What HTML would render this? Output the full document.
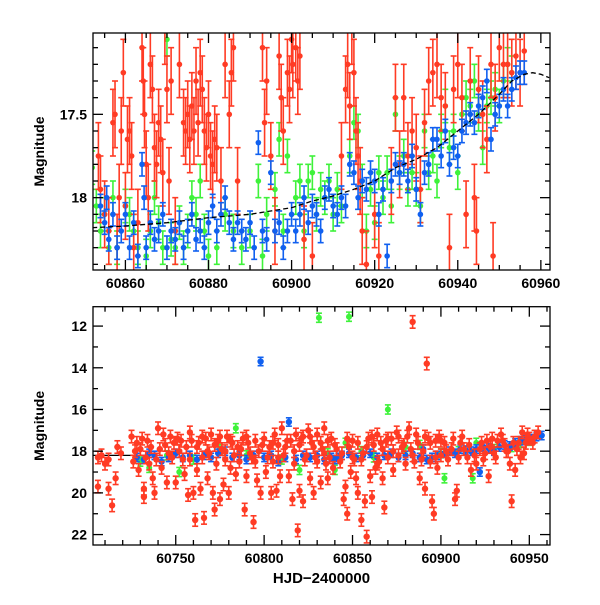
<!DOCTYPE html>
<html><head><meta charset="utf-8"><style>
body{margin:0;background:#fff;width:600px;height:600px;overflow:hidden}
svg text{font-family:"Liberation Sans",sans-serif;font-weight:bold;fill:#000}
</style></head><body>
<svg id="chart" width="600" height="600" xmlns="http://www.w3.org/2000/svg"></svg>
<script>
// ---- TOP PANEL DATA ----
const redTopT=[60853.5,60854,60855,60856,60857,60857.5,60858,60858.5,60859,60859.5,60860,60860.5,60861,60861.5,60862,60863,60864,60864.3,60864.6,60865,60865.5,60866,60866.5,60867,60867.5,60868,60868.5,60869,60869.5,60870,60870.5,60871,60872,60873,60874,60874.5,60875,60875.5,60876,60876.5,60877,60877.5,60878,60878.5,60879,60879.5,60880,60880.5,60881,60881.5,60882,60883,60884,60885,60885.5,60886,60887,60893,60893.5,60894,60895,60896,60897,60897.5,60898,60899,60899.5,60900,60900.3,60901,60901.5,60902,60903,60905,60912,60913,60913.5,60914,60914.5,60915,60915.5,60916,60916.5,60917,60918,60920,60921,60924,60925,60926,60927,60928,60929,60930,60931,60932,60933,60934,60935,60936,60937,60938,60939,60940,60941,60942,60943,60944,60944.5,60945,60946,60947,60948,60948.5,60949,60950,60951,60952,60953,60954,60955,60956];
const redTopM=[17.75,17.95,18.1,18.2,17.55,17.5,18.3,18.0,17.6,17.25,18.05,17.65,17.6,17.75,18.3,18.15,17.1,17.3,17.5,17.8,18.0,17.2,17.35,17.7,17.8,17.55,17.65,17.85,17.0,17.35,17.9,17.3,18.2,17.2,17.55,17.6,17.5,17.65,17.45,17.6,17.3,17.55,17.25,17.35,17.6,17.7,17.5,17.75,17.8,17.65,17.7,17.9,17.2,17.5,17.25,17.1,17.9,17.1,17.55,17.3,17.75,18.2,17.15,17.4,17.6,17.25,17.35,17.05,17.2,17.1,17.3,17.15,18.25,18.35,17.75,17.35,17.2,17.45,17.0,17.25,17.6,17.75,17.9,18.2,18.4,18.1,18.35,17.9,17.4,17.8,17.4,17.75,17.6,17.7,17.95,17.55,17.3,17.25,17.2,17.4,17.45,18.3,17.35,17.2,17.4,18.1,17.3,18.0,18.2,17.35,17.5,17.65,17.2,18.35,17.4,17.1,17.2,17.2,17.25,17.15,17.25,17.12];
const blueTopT=[60854,60855,60855.5,60856,60857,60858,60859,60860,60861,60862,60863,60864,60864.5,60865,60866,60867,60868,60869,60870,60871,60872,60873,60874,60875,60876,60877,60878,60879,60880,60881,60882,60883,60884,60885,60886,60887,60888,60889,60890,60891,60892,60893,60894,60895,60896,60897,60898,60899,60900,60901,60902,60903,60904,60905,60906,60907,60908,60909,60910,60911,60912,60913,60914,60915,60916,60917,60918,60919,60920,60921,60922,60923,60924,60925,60926,60927,60928,60929,60930,60931,60932,60933,60934,60935,60936,60937,60938,60939,60940,60941,60942,60943,60944,60945,60946,60947,60948,60949,60950,60951,60952,60953,60954,60955,60956];
const blueTopM=[18.05,18.15,18.0,18.25,18.1,18.3,18.2,18.1,18.3,18.15,18.35,17.8,18.0,18.3,18.15,18.25,18.2,18.1,18.3,18.2,18.25,18.15,18.3,18.2,18.1,18.25,18.2,18.3,18.15,18.05,18.2,18.1,18.0,18.15,18.25,18.15,18.2,18.25,18.15,18.3,17.67,18.2,18.25,17.85,18.2,18.15,18.3,18.2,18.1,18.2,18.1,18.0,18.15,18.05,18.1,18.2,18.0,17.95,18.05,18.1,18.0,18.05,17.8,17.85,18.0,17.9,17.95,17.85,17.9,18.1,17.95,18.35,17.9,17.8,17.85,17.8,17.9,17.75,17.95,18.1,17.85,17.8,17.65,17.65,17.75,17.6,17.8,17.7,17.75,17.6,17.55,17.5,17.55,17.45,17.4,17.3,17.65,17.5,17.45,17.35,17.45,17.35,17.28,17.25,17.25];
const greenTopT=[60852,60853,60854,60855,60856,60857,60858,60860,60861,60862,60863,60865,60866,60867,60868,60869,60870,60871,60872,60873,60874,60875,60876,60877,60878,60879,60880,60882,60884,60886,60888,60890,60892,60893,60894,60896,60897,60898,60899,60901,60902,60903,60904,60905,60906,60907,60908,60909,60910,60911,60912,60914,60915,60916,60917,60918,60919,60920,60921,60922,60923,60924,60925,60926,60927,60928,60929,60930,60931,60932,60933,60934,60935,60936,60937,60938,60939,60940,60941,60942,60943,60944,60945,60946,60947,60948,60949,60950,60951,60952,60953];
const greenTopM=[17.82,18.05,18.2,18.1,18.3,18.0,18.3,18.05,18.1,18.2,18.3,18.35,18.2,18.0,18.15,18.3,17.05,18.25,18.3,18.15,18.3,18.2,18.0,18.1,17.9,18.2,18.35,18.3,18.1,18.2,18.3,18.2,17.9,18.35,18.1,17.95,17.65,18.2,17.75,18.0,17.9,18.2,17.9,17.85,18.1,17.95,18.0,17.9,18.1,17.95,18.05,17.75,17.55,17.6,17.9,18.2,17.95,18.15,17.85,18.0,17.85,18.05,17.5,17.85,17.75,17.95,17.85,17.95,18.05,17.6,17.85,17.75,17.9,17.6,17.45,17.7,17.6,17.85,17.5,17.4,17.45,17.3,17.5,17.7,17.45,17.4,17.35,17.45,17.3,17.2,17.25];
const curveT=[60852,60860,60870,60880,60890,60900,60905,60910,60915,60920,60925,60930,60935,60940,60945,60950,60953,60956,60958,60960,60962];
const curveM=[18.18,18.17,18.15,18.12,18.1,18.06,18.02,17.99,17.95,17.9,17.82,17.77,17.7,17.6,17.5,17.38,17.3,17.26,17.25,17.26,17.28];
// ---- BOTTOM PANEL DATA ----
const redBotT=[60706,60706,60708,60710,60712,60712,60714,60716,60717,60719,60725,60726,60728,60729,60730,60732,60732,60734,60735,60737,60738,60740,60741,60742,60744,60745,60747,60748,60749,60750,60752,60753,60755,60756,60757,60758,60759,60760,60761,60762,60763,60764,60765,60766,60767,60768,60769,60770,60771,60772,60773,60774,60775,60776,60777,60778,60779,60780,60781,60782,60784,60785,60786,60788,60789,60790,60791,60793,60794,60795,60796,60797,60798,60800,60801,60803,60804,60805,60806,60807,60808,60809,60810,60811,60813,60814,60816,60817,60818,60819,60820,60821,60822,60823,60825,60826,60827,60828,60829,60830,60832,60833,60834,60835,60836,60838,60839,60840,60843,60845,60846,60847,60848,60849,60850,60851,60852,60853,60855,60856,60857,60858,60859,60860,60861,60862,60863,60864,60865,60866,60867,60868,60869,60870,60872,60873,60875,60876,60878,60880,60881,60883,60884,60885,60886,60888,60890,60891,60892,60893,60894,60895,60896,60897,60898,60899,60900,60902,60904,60906,60908,60909,60910,60911,60913,60915,60917,60920,60922,60924,60926,60927,60928,60930,60932,60934,60936,60937,60939,60940,60941,60942,60944,60945,60946,60948,60950,60952,60955,60727,60731,60733,60736,60739,60743,60746,60751,60754,60758,60762,60765,60768,60772,60775,60778,60781,60783,60787,60790,60792,60795,60799,60802,60805,60808,60812,60815,60817,60820,60822,60824,60826,60828,60830,60832,60834,60836,60837,60841,60844,60847,60850,60853,60855,60858,60861,60864,60867,60870,60873,60876,60879,60882,60884,60887,60889,60891,60894,60897,60900,60903,60907,60912,60916,60919,60923,60925,60929,60931,60935,60938,60943,60947,60949,60953];
const redBotM=[18.3,19.7,18.2,18.6,19.8,18.4,20.6,19.3,17.8,18.1,17.3,18.5,17.6,18.9,17.9,19.8,20.2,17.5,18.6,19.3,20.0,16.9,17.9,18.8,17.7,19.5,17.3,18.3,17.6,19.5,18.0,17.5,19.1,17.8,20.1,18.4,17.5,20.0,21.3,18.9,17.6,19.8,18.3,21.2,17.4,19.3,18.1,17.2,20.0,20.8,18.6,17.5,20.3,17.9,19.6,18.4,17.3,20.0,18.8,17.6,19.1,17.8,18.5,17.4,20.8,19.2,17.6,18.3,21.4,17.5,19.4,18.0,20.0,17.4,19.0,17.8,20.0,18.5,17.2,19.9,17.7,19.2,16.9,18.2,17.5,19.2,20.3,18.0,17.2,21.8,19.9,17.4,20.4,18.4,17.0,19.3,17.6,20.0,18.3,17.2,19.5,17.9,16.9,18.6,19.3,17.4,18.8,17.7,18.5,20.3,19.7,21.0,17.8,19.0,17.5,18.4,19.3,20.0,21.3,18.1,20.4,22.1,17.4,19.2,20.2,17.7,18.8,17.2,18.5,17.6,19.3,20.7,17.5,18.3,17.4,18.9,17.1,18.2,17.8,18.6,17.3,17.9,11.8,18.5,17.2,19.3,18.0,19.8,13.8,17.4,18.5,20.4,21.0,17.5,18.8,17.3,18.2,17.6,18.4,17.9,20.3,19.9,18.3,17.6,17.9,18.3,18.9,18.6,17.9,18.4,17.5,19.2,17.8,18.1,17.5,17.2,17.7,18.0,18.6,20.4,17.6,18.9,17.6,18.3,17.1,17.6,17.4,17.6,17.1,18.0,17.4,18.3,17.8,18.4,17.2,18.1,17.4,18.4,17.1,17.8,17.3,18.0,17.7,17.3,18.0,17.5,18.2,17.9,17.3,18.1,18.5,17.7,18.3,17.6,18.3,17.8,17.5,18.6,17.7,17.3,18.2,17.3,17.8,18.5,17.6,18.1,17.5,18.3,17.9,18.1,17.4,18.3,17.6,18.4,17.8,17.3,18.6,17.9,17.4,18.0,17.3,17.7,16.9,18.2,17.6,18.4,17.3,17.6,18.3,17.5,18.0,17.4,17.3,17.7,18.2,17.6,18.1,17.4,18.3,17.5,18.0,17.9,18.1,17.2,17.3];
const blueBotT=[60728,60732,60735,60738,60742,60746,60750,60754,60758,60762,60766,60770,60774,60778,60782,60786,60790,60794,60798,60800,60804,60808,60812,60814,60818,60822,60826,60830,60834,60838,60840,60842,60844,60848,60852,60856,60860,60864,60868,60872,60876,60880,60884,60888,60890,60892,60895,60898,60902,60905,60908,60911,60914,60917,60920,60922,60924,60927,60930,60933,60936,60939,60942,60945,60948,60951,60954,60957];
const blueBotM=[18.3,18.4,18.1,18.2,18.5,18.3,18.1,18.3,18.2,18.4,18.2,18.3,18.1,18.0,18.3,18.2,18.4,18.2,13.7,18.3,18.2,18.5,18.3,16.6,18.4,18.2,18.3,18.2,18.4,18.3,18.4,18.3,18.2,18.1,18.3,18.2,18.1,18.3,18.2,18.1,18.3,18.2,18.1,18.3,17.9,18.4,18.3,18.2,18.1,18.0,18.1,17.9,17.95,18.0,17.9,19.0,17.8,17.85,18.0,17.8,17.7,17.75,17.6,17.5,17.45,17.4,17.3,17.25];
const greenBotT=[60730,60735,60745,60752,60760,60775,60784,60790,60810,60820,60831,60836,60840,60846,60848,60855,60862,60870,60880,60888,60900,60902,60910,60918,60920,60930,60940,60945,60950];
const greenBotM=[18.5,18.8,18.2,19.0,18.4,17.9,16.9,18.2,18.4,18.9,11.6,18.1,18.9,17.6,11.55,18.0,18.3,16.0,17.8,17.7,18.1,19.3,18.0,19.3,17.6,17.9,17.8,17.6,17.5];
const botLineT=[60703,60730];
const botLineM=[18.2,18.2];
const topXTicks=[60860,60880,60900,60920,60940,60960];
const topYTicks=[17.5,18];
const botXTicks=[60750,60800,60850,60900,60950];
const botYTicks=[12,14,16,18,20,22];

const NS='http://www.w3.org/2000/svg';
const svg=document.getElementById('chart');
function mk(tag,attrs,parent){const e=document.createElementNS(NS,tag);for(const k in attrs)e.setAttribute(k,attrs[k]);(parent||svg).appendChild(e);return e;}
const L=93,R=550;
const pTop={x0:60852.2,x1:60962.2,y0:17.012,y1:18.434,T:33,B:270};
const pBot={x0:60703.2,x1:60961.7,y0:11.07,y1:22.5,T:306.7,B:545};
function sx(p,v){return L+(v-p.x0)/(p.x1-p.x0)*(R-L);}
function sy(p,v){return p.T+(v-p.y0)/(p.y1-p.y0)*(p.B-p.T);}
const COL={red:'#ff3b24',green:'#3ef23a',blue:'#1060f0'};

function panel(p,name){
  const g=mk('g',{});
  
  
  const cp=mk('clipPath',{id:'clip-'+name},g);
  mk('rect',{x:L,y:p.T,width:R-L,height:p.B-p.T},cp);
  const inner=mk('g',{'clip-path':'url(#clip-'+name+')'},g);
  return {g,inner};
}
function series(p,parent,T,M,err,color,name,r){
  const g=mk('g',{fill:COL[color],stroke:COL[color],'stroke-width':1.6},parent);
  
  
  for(let i=0;i<T.length;i++){
    const x=sx(p,T[i]),y=sy(p,M[i]),y1=sy(p,M[i]-err),y2=sy(p,M[i]+err);
    mk('line',{x1:x,x2:x,y1:y1,y2:y2},g);
    mk('line',{x1:x-3,x2:x+3,y1:y1,y2:y1},g);
    mk('line',{x1:x-3,x2:x+3,y1:y2,y2:y2},g);
    const c=mk('circle',{cx:x,cy:y,r:r,stroke:'none'},g);
    
    
  }
}
function line(p,parent,T,M,dash,name){
  let d='';for(let i=0;i<T.length;i++)d+=(i?'L':'M')+sx(p,T[i]).toFixed(1)+' '+sy(p,M[i]).toFixed(1);
  const e=mk('path',{d:d,fill:'none',stroke:'#000','stroke-width':1.3,'stroke-dasharray':dash},parent);
  
  
}
function axes(p,g,xt,xminor,yt,ymin,ystep,fmt,name){
  const a=mk('g',{stroke:'#000','stroke-width':1.3},g);
  
  
  mk('rect',{x:L,y:p.T,width:R-L,height:p.B-p.T,fill:'none'},a);
  for(let v=Math.ceil(p.x0/xminor)*xminor;v<=p.x1;v+=xminor){
    const x=sx(p,v),maj=xt.indexOf(v)>=0,len=maj?10:5;
    mk('line',{x1:x,x2:x,y1:p.B,y2:p.B-len},a);mk('line',{x1:x,x2:x,y1:p.T,y2:p.T+len},a);
  }
  for(let v=ymin;v<=p.y1+1e-9;v=Math.round((v+ystep)*100)/100){
    if(v<p.y0)continue;
    const y=sy(p,v),maj=yt.some(t=>Math.abs(t-v)<1e-6),len=maj?10:5;
    mk('line',{x1:L,x2:L+len,y1:y,y2:y},a);mk('line',{x1:R,x2:R-len,y1:y,y2:y},a);
  }
  xt.forEach(v=>{const t=mk('text',{x:sx(p,v),y:p.B+18,'text-anchor':'middle','font-size':14},g);t.textContent=v;
    });
  yt.forEach(v=>{const t=mk('text',{x:L-6,y:sy(p,v)+5,'text-anchor':'end','font-size':14},g);t.textContent=fmt(v);
    });
  const yl=mk('text',{x:0,y:0,'text-anchor':'middle','font-size':14,transform:'translate(44,'+((p.T+p.B)/2)+') rotate(-90)'},g);
  yl.textContent='Magnitude';
  
  
}
// top
const P1=panel(pTop,'top-panel');
series(pTop,P1.inner,greenTopT,greenTopM,0.1,'green','green-series-top',2.8);
series(pTop,P1.inner,redTopT,redTopM,0.2,'red','red-series-top',2.8);
series(pTop,P1.inner,blueTopT,blueTopM,0.07,'blue','blue-series-top',2.8);
line(pTop,P1.inner,curveT,curveM,'5,3','model-curve-top');
axes(pTop,P1.g,topXTicks,5,topYTicks,17.1,0.1,v=>String(v),'top');
// bottom
const P2=panel(pBot,'bottom-panel');
line(pBot,P2.inner,botLineT,botLineM,'none','baseline-bottom');
series(pBot,P2.inner,greenBotT,greenBotM,0.22,'green','green-series-bottom',3);
series(pBot,P2.inner,blueBotT,blueBotM,0.2,'blue','blue-series-bottom',3.2);
series(pBot,P2.inner,redBotT,redBotM,0.3,'red','red-series-bottom',3.2);
axes(pBot,P2.g,botXTicks,10,botYTicks,12,1,v=>String(v),'bottom');
const xl=mk('text',{x:(L+R)/2,y:583,'text-anchor':'middle','font-size':15});
xl.textContent='HJD\u22122400000';


</script>
</body></html>
